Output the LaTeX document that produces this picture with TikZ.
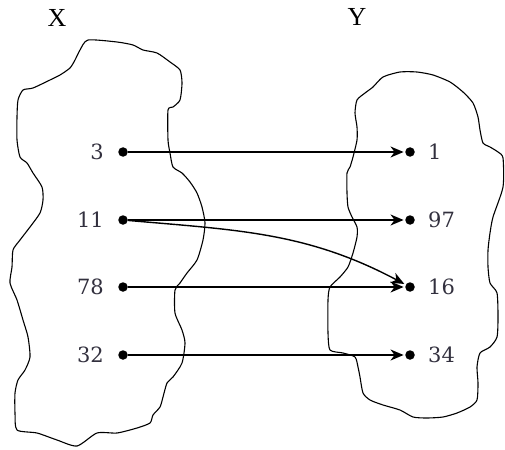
\documentclass[tikz,border=0pt]{standalone}
\usepackage{fontspec}
\setmainfont{Liberation Serif}
\newfontfamily\numfont{DejaVu Serif}
\usetikzlibrary{positioning,arrows.meta}
\definecolor{numgray}{RGB}{50,48,62}
\tikzset{
  blob/.style={line width=1.1pt, line join=round},
  elem/.style={circle, fill=black, inner sep=0pt, minimum size=9.5pt},
  num/.style={font=\numfont\fontsize{21}{21}\selectfont, text=numgray, inner sep=0pt},
  maparrow/.style={line width=1.4pt, -{Stealth[length=13pt,width=11pt,inset=4pt]}, shorten >=1.5pt},
  setname/.style={font=\fontsize{26}{26}\selectfont}
}
\begin{document}
\begin{tikzpicture}[x=1pt,y=-1pt]
  \useasboundingbox (0,0) rectangle (505,449);

  % Sets
  \draw[blob] plot[smooth cycle, tension=0.4] coordinates {
    (88,40) (117,42) (133,45) (143,50) (157,53) (170,62) (180,70) (182,83)
    (180,100) (173,107) (168,110) (168,140) (170,153) (173,167) (182,173)
    (190,182) (197,193) (202,207) (205,223) (203,240) (197,260) (187,273)
    (180,283) (175,290) (175,313) (182,330) (185,343) (182,363) (173,377)
    (167,383) (163,397) (160,407) (153,415) (150,423) (137,428) (117,433)
    (97,433) (77,446) (57,440) (37,433) (17,430) (15,413) (15,393) (18,380)
    (25,370) (30,357) (28,337) (23,320) (17,300) (10,283) (12,267) (13,250)
    (20,240) (30,227) (40,213) (43,200) (42,187) (33,173) (27,163) (20,157)
    (17,140) (17,117) (18,100) (23,90) (33,88) (50,80) (60,75) (70,68)
    (75,60) (80,50)};
  \draw[blob] plot[smooth cycle, tension=0.4] coordinates {
    (383,77) (400,72) (417,72) (433,75) (450,82) (463,92) (473,103) (478,117)
    (480,130) (483,143) (490,147) (498,152) (503,158) (503,187) (493,217)
    (490,233) (488,250) (488,267) (490,283) (497,293) (498,317) (497,337)
    (490,347) (480,353) (477,367) (478,383) (477,400) (470,407) (457,413)
    (443,417) (427,418) (413,417) (400,410) (383,405) (370,400) (363,393)
    (360,377) (358,367) (355,357) (343,353) (330,350) (328,333) (328,300)
    (330,287) (340,277) (348,267) (353,253) (357,237) (357,227) (352,217)
    (348,207) (347,193) (347,173) (350,167) (353,157) (357,140) (357,127)
    (355,113) (357,100) (365,93) (373,87)};

  % Set names
  \node[setname] (setX) at (57,18) {X};
  \node[setname] (setY) at (357,17) {Y};

  % Elements of X
  \node[elem] (x3) at (123,152) {};
  \node[elem] (x11) at (123,220) {};
  \node[elem] (x78) at (123,287) {};
  \node[elem] (x32) at (123,355) {};
  \node[num, left=14pt of x3] (lx3) {3};
  \node[num, left=14pt of x11] (lx11) {11};
  \node[num, left=14pt of x78] (lx78) {78};
  \node[num, left=14pt of x32] (lx32) {32};

  % Elements of Y
  \node[elem] (y1) at (410,152) {};
  \node[elem] (y97) at (410,220) {};
  \node[elem] (y16) at (410,287) {};
  \node[elem] (y34) at (410,355) {};
  \node[num, right=13pt of y1] (ly1) {1};
  \node[num, right=13pt of y97] (ly97) {97};
  \node[num, right=13pt of y16] (ly16) {16};
  \node[num, right=13pt of y34] (ly34) {34};

  % Mapping
  \draw[maparrow] (x3) -- (y1);
  \draw[maparrow] (x11) -- (y97);
  \draw[maparrow] (x11) to[out=-5, in=152] (y16);
  \draw[maparrow] (x78) -- (y16);
  \draw[maparrow] (x32) -- (y34);
\end{tikzpicture}
\end{document}
